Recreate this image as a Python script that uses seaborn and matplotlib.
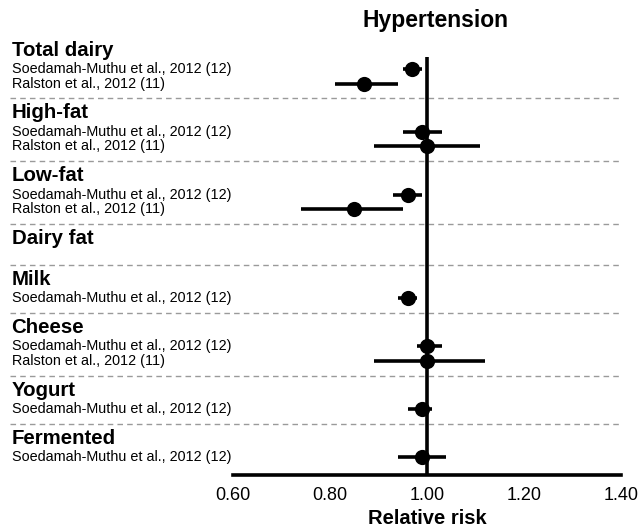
import numpy as np
import pandas as pd
import seaborn as sns
import matplotlib.pyplot as plt
import matplotlib.transforms as mtransforms

# --- data ---
categories = ['Total dairy', 'High-fat', 'Low-fat', 'Dairy fat', 'Milk',
              'Cheese', 'Yogurt', 'Fermented']
studies = [
    ['Soedamah-Muthu et al., 2012 (12)', 'Ralston et al., 2012 (11)'],
    ['Soedamah-Muthu et al., 2012 (12)', 'Ralston et al., 2012 (11)'],
    ['Soedamah-Muthu et al., 2012 (12)', 'Ralston et al., 2012 (11)'],
    [],
    ['Soedamah-Muthu et al., 2012 (12)'],
    ['Soedamah-Muthu et al., 2012 (12)', 'Ralston et al., 2012 (11)'],
    ['Soedamah-Muthu et al., 2012 (12)'],
    ['Soedamah-Muthu et al., 2012 (12)'],
]
rr = [[0.97, 0.87], [0.99, 1.00], [0.96, 0.85], [], [0.96],
      [1.00, 1.00], [0.99], [0.99]]
lo = [[0.95, 0.81], [0.95, 0.89], [0.93, 0.74], [], [0.94],
      [0.98, 0.89], [0.96], [0.94]]
hi = [[0.99, 0.94], [1.03, 1.11], [0.99, 0.95], [], [0.98],
      [1.03, 1.12], [1.01], [1.04]]
xticks = [0.60, 0.80, 1.00, 1.20, 1.40]

# --- build row layout ---
rows = []
headers = []
dashes = []
y = 0.0
for i, cat in enumerate(categories):
    if i > 0:
        dashes.append(y)
        y += 1.0
    headers.append((cat, y))
    if len(studies[i]) == 0:
        y += 1.8
        continue
    y += 1.3
    for j, s in enumerate(studies[i]):
        rows.append(dict(study=s, y=y, rr=rr[i][j], lo=lo[i][j], hi=hi[i][j]))
        y += 1.0
df = pd.DataFrame(rows)
y_axis = y + 0.2

# --- figure ---
sns.set_style('white')
plt.rcParams['font.family'] = ['Liberation Sans', 'DejaVu Sans']
plt.rcParams['text.color'] = 'black'
plt.rcParams['xtick.color'] = 'black'
plt.rcParams['axes.labelcolor'] = 'black'

fig = plt.figure(figsize=(6.39, 5.27), dpi=100)
ax = fig.add_axes([0, 1 - 475 / 527, 1, 475 / 527])

ppu = 485.0  # pixels per unit on x
xmin, xmax = 0.6 - 233 / ppu, 1.4 + (639 - 621) / ppu
ax.set_xlim(xmin, xmax)
ax.set_ylim(y_axis, -50 / 14.6)

trans = mtransforms.blended_transform_factory(ax.transAxes, ax.transData)

for yd in dashes:
    ax.plot([0.016, 0.97], [yd, yd], transform=trans, color='#9a9a9a',
            lw=1.0, ls=(0, (4, 3)), zorder=1)

ax.vlines(1.0, 0.5, y_axis, color='black', lw=2.6, zorder=2)
ax.hlines(df['y'], df['lo'], df['hi'], color='black', lw=2.6, zorder=3)
sns.scatterplot(data=df, x='rr', y='y', ax=ax, color='black', s=120,
                edgecolor='black', linewidth=0, zorder=4, legend=False)

for cat, yh in headers:
    ax.text(0.018, yh, cat, transform=trans, ha='left', va='center',
            fontsize=14.7, fontweight='bold')
for _, r in df.iterrows():
    ax.text(0.018, r['y'], r['study'], transform=trans, ha='left',
            va='center', fontsize=10.4)

for sp in ['top', 'left', 'right']:
    ax.spines[sp].set_visible(False)
ax.spines['bottom'].set_bounds(0.6, 1.4)
ax.spines['bottom'].set_linewidth(2.6)
ax.spines['bottom'].set_color('black')
ax.set_xticks(xticks)
ax.set_xticklabels([f'{t:.2f}' for t in xticks], fontsize=13)
ax.tick_params(axis='x', direction='inout', length=7, width=2.2, pad=5.5)
ax.set_yticks([])
ax.set_xlabel('Relative risk', fontsize=14.5, fontweight='bold')
ax.xaxis.set_label_coords((1.0 - xmin) / (xmax - xmin), -43 / 475)
ax.xaxis.label.set_va('center')
ax.set_ylabel('')

fig.text(435 / 639, 1 - 21 / 527, 'Hypertension', ha='center', va='center',
         fontsize=16.5, fontweight='bold')

fig.savefig('out.png', dpi=100)
